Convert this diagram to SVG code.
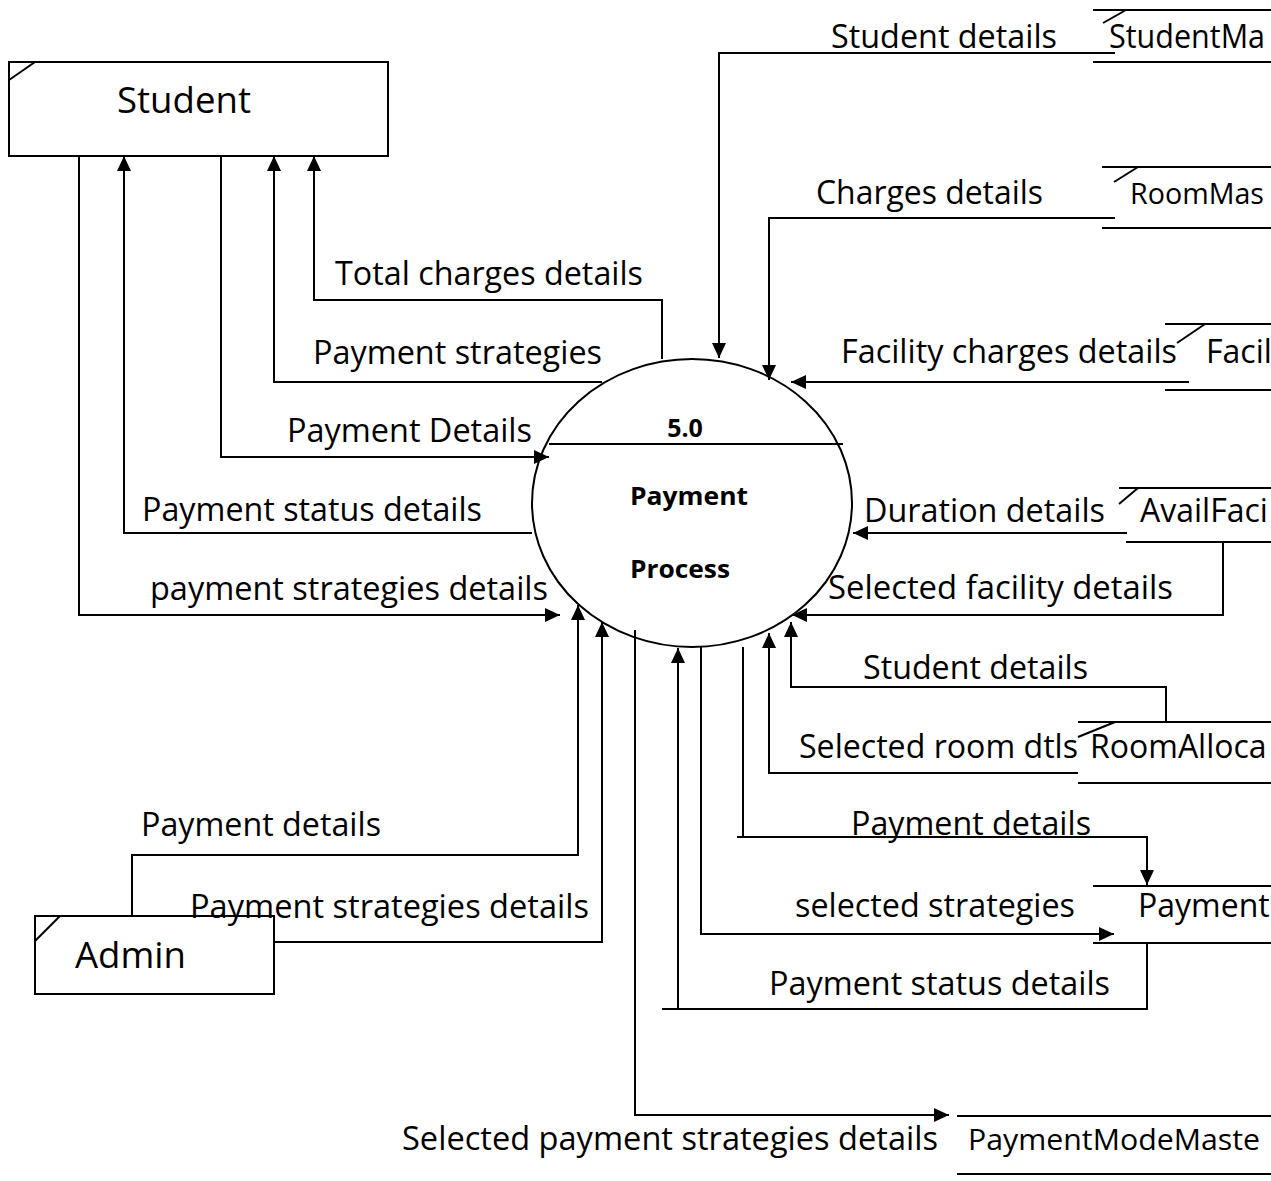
<svg xmlns="http://www.w3.org/2000/svg" width="1271" height="1181" viewBox="0 0 1271 1181">
<style>
.bg{fill:#fff}
.ln{fill:none;stroke:#000;stroke-width:2}
.st{fill:none;stroke:#000;stroke-width:2.2}
.box{fill:#fff;stroke:#000;stroke-width:2}
.lbl{font-family:"Open Sans","Liberation Sans",sans-serif;font-size:32px;fill:#000}
.big{font-family:"Open Sans","Liberation Sans",sans-serif;font-size:37px;fill:#000}
.bold{font-family:"Open Sans","Liberation Sans",sans-serif;font-size:25px;font-weight:bold;fill:#000}
</style>
<defs>
<marker id="ah" markerWidth="16" markerHeight="14" refX="15" refY="7" orient="auto" markerUnits="userSpaceOnUse">
<path d="M0,0 L15,7 L0,14 Z" fill="#000"/>
</marker>
</defs>
<rect class="bg" x="0" y="0" width="1271" height="1181"/>

<g id="connectors">
<path class="ln" d="M79,156 V615 H560" marker-end="url(#ah)"/>
<path class="ln" d="M532,533 H124 V156" marker-end="url(#ah)"/>
<path class="ln" d="M221,156 V457 H549" marker-end="url(#ah)"/>
<path class="ln" d="M602,382 H274 V156" marker-end="url(#ah)"/>
<path class="ln" d="M662,359 V300 H314 V156" marker-end="url(#ah)"/>
<path class="ln" d="M1115,53 H719 V358" marker-end="url(#ah)"/>
<path class="ln" d="M1115,218 H769 V380" marker-end="url(#ah)"/>
<path class="ln" d="M1189,382 H791" marker-end="url(#ah)"/>
<path class="ln" d="M1127,533 H853" marker-end="url(#ah)"/>
<path class="ln" d="M1223,542 V615 H792" marker-end="url(#ah)"/>
<path class="ln" d="M1166,722 V687 H791 V622" marker-end="url(#ah)"/>
<path class="ln" d="M1078,773 H769 V633" marker-end="url(#ah)"/>
<path class="ln" d="M743,647 V837"/>
<path class="ln" d="M737,837 H1147 V885" marker-end="url(#ah)"/>
<path class="ln" d="M701,646 V934 H1114" marker-end="url(#ah)"/>
<path class="ln" d="M1147,943 V1009 H662"/>
<path class="ln" d="M678,1009 V648" marker-end="url(#ah)"/>
<path class="ln" d="M132,916 V855 H578 V605" marker-end="url(#ah)"/>
<path class="ln" d="M274,942 H602 V622" marker-end="url(#ah)"/>
<path class="ln" d="M635,630 V1115 H949" marker-end="url(#ah)"/>
</g>

<g id="student">
<rect class="box" x="9" y="62" width="379" height="94"/>
<line class="ln" x1="9" y1="80" x2="35" y2="62"/>
<text class="big" x="117" y="113" textLength="134" lengthAdjust="spacingAndGlyphs">Student</text>
</g>

<g id="admin">
<rect class="box" x="35" y="916" width="239" height="78"/>
<line class="ln" x1="35" y1="941" x2="60" y2="916"/>
<text class="big" x="75" y="968" textLength="111" lengthAdjust="spacingAndGlyphs">Admin</text>
</g>

<g id="process">
<ellipse cx="692" cy="503" rx="160" ry="144" fill="none" stroke="#000" stroke-width="2"/>
<line class="ln" x1="549" y1="444" x2="843" y2="444"/>
<text class="bold" x="685" y="437" text-anchor="middle">5.0</text>
<text class="bold" x="630" y="505" textLength="118" lengthAdjust="spacingAndGlyphs">Payment</text>
<text class="bold" x="630" y="578" textLength="100" lengthAdjust="spacingAndGlyphs">Process</text>
</g>

<g id="studentmaster">
<line class="st" x1="1093" y1="10" x2="1271" y2="10"/>
<line class="st" x1="1093" y1="62" x2="1271" y2="62"/>
<line class="ln" x1="1103" y1="23" x2="1126" y2="10"/>
<text class="lbl" x="1109" y="48" textLength="156" lengthAdjust="spacingAndGlyphs">StudentMa</text>
</g>

<g id="roommaster">
<line class="st" x1="1102" y1="167" x2="1271" y2="167"/>
<line class="st" x1="1102" y1="228" x2="1271" y2="228"/>
<line class="ln" x1="1114" y1="182" x2="1138" y2="167"/>
<text class="lbl" x="1130" y="204" style="font-size:29px" textLength="134" lengthAdjust="spacingAndGlyphs">RoomMas</text>
</g>

<g id="facility">
<line class="st" x1="1165" y1="324" x2="1271" y2="324"/>
<line class="st" x1="1165" y1="390" x2="1271" y2="390"/>
<line class="ln" x1="1177" y1="343" x2="1205" y2="324"/>
<text class="lbl" x="1206" y="363">Facil</text>
</g>

<g id="availfacility">
<line class="st" x1="1119" y1="488" x2="1271" y2="488"/>
<line class="st" x1="1126" y1="542" x2="1271" y2="542"/>
<line class="ln" x1="1119" y1="504" x2="1138" y2="488"/>
<text class="lbl" x="1140" y="522">AvailFaci</text>
</g>

<g id="roomallocation">
<line class="st" x1="1078" y1="722" x2="1271" y2="722"/>
<line class="st" x1="1078" y1="783" x2="1271" y2="783"/>
<line class="ln" x1="1078" y1="737" x2="1115" y2="722"/>
<text class="lbl" x="1090" y="758">RoomAlloca</text>
</g>

<g id="payment">
<line class="st" x1="1093" y1="886" x2="1271" y2="886"/>
<line class="st" x1="1093" y1="943" x2="1271" y2="943"/>
<text class="lbl" x="1138" y="917">Payment</text>
</g>

<g id="paymentmodemaster">
<line class="st" x1="957" y1="1116" x2="1271" y2="1116"/>
<line class="st" x1="957" y1="1174" x2="1271" y2="1174"/>
<text class="lbl" x="968" y="1150" style="font-size:30px" textLength="292" lengthAdjust="spacingAndGlyphs">PaymentModeMaste</text>
</g>

<g id="labels">
<text class="lbl" x="831" y="48" textLength="226" lengthAdjust="spacingAndGlyphs">Student details</text>
<text class="lbl" x="816" y="204" textLength="227" lengthAdjust="spacingAndGlyphs">Charges details</text>
<text class="lbl" x="335" y="285" textLength="308" lengthAdjust="spacingAndGlyphs">Total charges details</text>
<text class="lbl" x="313" y="364" textLength="289" lengthAdjust="spacingAndGlyphs">Payment strategies</text>
<text class="lbl" x="841" y="363" textLength="336" lengthAdjust="spacingAndGlyphs">Facility charges details</text>
<text class="lbl" x="287" y="442" textLength="245" lengthAdjust="spacingAndGlyphs">Payment Details</text>
<text class="lbl" x="142" y="521" textLength="340" lengthAdjust="spacingAndGlyphs">Payment status details</text>
<text class="lbl" x="864" y="522" textLength="241" lengthAdjust="spacingAndGlyphs">Duration details</text>
<text class="lbl" x="150" y="600" textLength="398" lengthAdjust="spacingAndGlyphs">payment strategies details</text>
<text class="lbl" x="828" y="599" textLength="345" lengthAdjust="spacingAndGlyphs">Selected facility details</text>
<text class="lbl" x="863" y="679" textLength="225" lengthAdjust="spacingAndGlyphs">Student details</text>
<text class="lbl" x="799" y="758" textLength="279" lengthAdjust="spacingAndGlyphs">Selected room dtls</text>
<text class="lbl" x="141" y="836" textLength="240" lengthAdjust="spacingAndGlyphs">Payment details</text>
<text class="lbl" x="851" y="835" textLength="240" lengthAdjust="spacingAndGlyphs">Payment details</text>
<text class="lbl" x="190" y="918" textLength="399" lengthAdjust="spacingAndGlyphs">Payment strategies details</text>
<text class="lbl" x="795" y="917" textLength="280" lengthAdjust="spacingAndGlyphs">selected strategies</text>
<text class="lbl" x="769" y="995" textLength="341" lengthAdjust="spacingAndGlyphs">Payment status details</text>
<text class="lbl" x="402" y="1150" textLength="536" lengthAdjust="spacingAndGlyphs">Selected payment strategies details</text>
</g>
</svg>
